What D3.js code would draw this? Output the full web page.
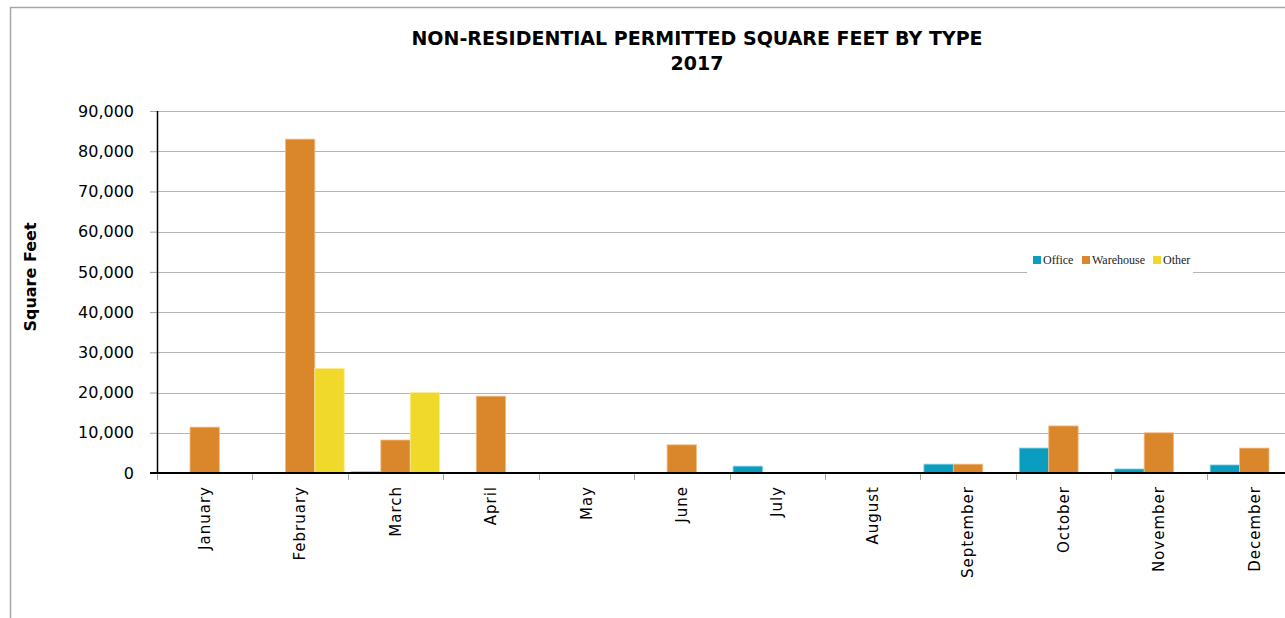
<!DOCTYPE html>
<html>
<head>
<meta charset="utf-8">
<script src="https://cdn.jsdelivr.net/npm/d3@7"></script>
<style>
    body { margin: 0; background: #fff; }
    svg { display: block; }
</style>
</head>
<body>
<div id="chart"></div>
<script>
// Chart data
const months = ['January', 'February', 'March', 'April', 'May', 'June',
    'July', 'August', 'September', 'October', 'November', 'December'];
const seriesNames = ['Office', 'Warehouse', 'Other'];
const office =    [0,     0,     300,   0,     0, 0,    1700, 0, 2200, 6200,  1000,  2000];
const warehouse = [11400, 83000, 8200,  19100, 0, 7000, 0,    0, 2200, 11700, 10000, 6200];
const other =     [0,     26000, 20000, 0,     0, 0,    0,    0, 0,    0,     0,     0];
const yTicks = [0, 10000, 20000, 30000, 40000, 50000, 60000, 70000, 80000, 90000];

const colors = ['#0a9dbf', '#da862a', '#f1d92b'];
const edgeColors = ['#7fd0e2', '#f3bd84', '#f8ec94'];

const width = 1285;
const height = 618;
const margin = {top: 111, left: 157, bottom: 145};
const plotRight = 1302;

const data = months.map((m, i) => ({
    month: m,
    values: [office[i], warehouse[i], other[i]]
}));

const svg = d3.select('#chart')
  .append('svg')
    .attr('width', width)
    .attr('height', height);

// outer frame
svg.append('path')
    .attr('d', `M10.5,${height}V7.5H${width}`)
    .attr('fill', 'none')
    .attr('stroke', '#a6a6a6')
    .attr('stroke-width', 1.5);

const xScale = d3.scaleBand()
    .domain(months)
    .range([margin.left, plotRight])
    .paddingInner(0)
    .paddingOuter(0);

const inner = d3.scaleBand()
    .domain(d3.range(seriesNames.length))
    .range([0, xScale.bandwidth()])
    .paddingOuter(0.122)
    .paddingInner(0);

const yScale = d3.scaleLinear()
    .domain([0, 90000])
    .range([height - margin.bottom, margin.top]);

// gridlines
svg.append('g')
    .selectAll('line')
    .data(yTicks.slice(1))
  .enter()
  .append('line')
    .attr('x1', margin.left)
    .attr('x2', width)
    .attr('y1', d => Math.round(yScale(d)) + 0.5)
    .attr('y2', d => Math.round(yScale(d)) + 0.5)
    .attr('stroke', '#b3b3b3')
    .attr('stroke-width', 1.2);

// y axis
const yAxis = d3.axisLeft(yScale)
    .tickValues(yTicks)
    .tickSize(7)
    .tickPadding(16)
    .tickFormat(d3.format(','));

const yAxisG = svg.append('g')
    .attr('transform', `translate(${margin.left},0)`)
    .call(yAxis);
yAxisG.select('.domain').remove();
yAxisG.selectAll('.tick line').attr('stroke', '#a6a6a6');
yAxisG.selectAll('.tick text')
    .attr('fill', '#000')
    .style('font-family', '"DejaVu Sans", sans-serif')
    .style('font-size', '16px');

// bars
const groups = svg.append('g')
    .selectAll('g')
    .data(data)
  .enter()
  .append('g')
    .attr('transform', d => `translate(${xScale(d.month)},0)`);

groups.selectAll('rect')
    .data(d => d.values.map((v, i) => ({v, i})).filter(e => e.v > 0))
  .enter()
  .append('rect')
    .attr('x', d => inner(d.i))
    .attr('y', d => yScale(d.v))
    .attr('width', inner.bandwidth())
    .attr('height', d => yScale(0) - yScale(d.v))
    .attr('fill', d => colors[d.i])
    .attr('stroke', d => edgeColors[d.i])
    .attr('stroke-width', 0.8);

// x axis
const xAxis = d3.axisBottom(xScale)
    .tickSize(0)
    .tickPadding(0);

const xAxisG = svg.append('g')
    .attr('transform', `translate(0,${yScale(0)})`)
    .call(xAxis);
xAxisG.select('.domain').remove();
xAxisG.selectAll('.tick text')
    .attr('transform', 'rotate(-90)')
    .attr('x', -13)
    .attr('y', 0)
    .attr('dy', '0.35em')
    .attr('text-anchor', 'end')
    .attr('fill', '#000')
    .style('font-family', '"DejaVu Sans", sans-serif')
    .style('font-size', '15px')
    .style('letter-spacing', '1px');

// tick marks at band boundaries
svg.append('g')
    .selectAll('line')
    .data(months.concat(['end']))
  .enter()
  .append('line')
    .attr('x1', (d, i) => Math.round(margin.left + i * xScale.bandwidth()) + 0.5)
    .attr('x2', (d, i) => Math.round(margin.left + i * xScale.bandwidth()) + 0.5)
    .attr('y1', yScale(0))
    .attr('y2', yScale(0) + 7)
    .attr('stroke', '#a6a6a6');

// axis lines
svg.append('line')
    .attr('x1', margin.left + 0.5)
    .attr('x2', margin.left + 0.5)
    .attr('y1', yScale(90000))
    .attr('y2', yScale(0))
    .attr('stroke', '#000')
    .attr('stroke-width', 1.5);
svg.append('line')
    .attr('x1', margin.left - 7)
    .attr('x2', width)
    .attr('y1', yScale(0))
    .attr('y2', yScale(0))
    .attr('stroke', '#000')
    .attr('stroke-width', 1.8);

// titles
const title = svg.append('text')
    .attr('x', 697)
    .attr('text-anchor', 'middle')
    .style('font-family', '"DejaVu Sans", sans-serif')
    .style('font-weight', 'bold')
    .style('font-size', '19px');
title.append('tspan').attr('x', 697).attr('y', 45).text('NON-RESIDENTIAL PERMITTED SQUARE FEET BY TYPE');
title.append('tspan').attr('x', 697).attr('y', 70).text('2017');

svg.append('text')
    .attr('transform', 'translate(36,277) rotate(-90)')
    .attr('text-anchor', 'middle')
    .style('font-family', '"DejaVu Sans", sans-serif')
    .style('font-weight', 'bold')
    .style('font-size', '16px')
    .text('Square Feet');

// legend
const legend = svg.append('g');
legend.append('rect')
    .attr('x', 1027)
    .attr('y', 240)
    .attr('width', 166)
    .attr('height', 40)
    .attr('fill', '#fff');

const legendX = [1033, 1082, 1153];
const items = legend.selectAll('g')
    .data(seriesNames)
  .enter()
  .append('g')
    .attr('transform', (d, i) => `translate(${legendX[i]},256)`);
items.append('rect')
    .attr('width', 8)
    .attr('height', 8)
    .attr('fill', (d, i) => colors[i]);
items.append('text')
    .attr('x', 10)
    .attr('y', 8)
    .style('font-family', '"Liberation Serif", serif')
    .style('font-size', '12px')
    .attr('fill', '#222')
    .text(d => d);
</script>
</body>
</html>
